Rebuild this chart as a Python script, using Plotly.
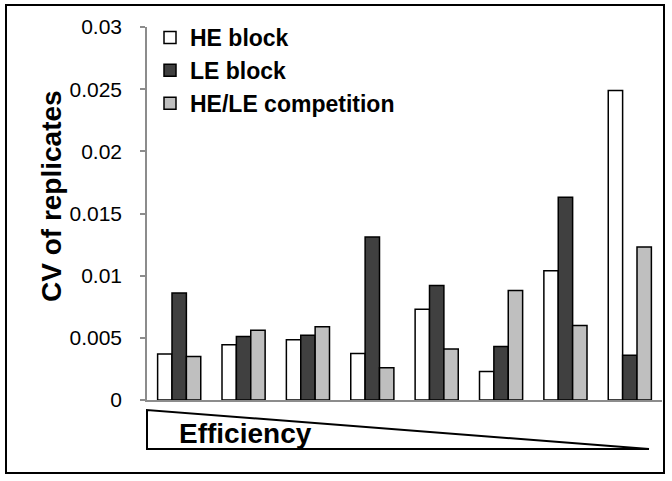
import plotly.graph_objects as go

groups = ["1", "2", "3", "4", "5", "6", "7", "8"]
he_block = [0.0037, 0.00445, 0.00485, 0.00375, 0.0073, 0.0023, 0.0104, 0.0249]
le_block = [0.0086, 0.0051, 0.0052, 0.0131, 0.0092, 0.0043, 0.0163, 0.0036]
competition = [0.0035, 0.0056, 0.0059, 0.0026, 0.0041, 0.0088, 0.006, 0.0123]
series_names = ["HE block", "LE block", "HE/LE competition"]
series_colors = ["#ffffff", "#404040", "#bfbfbf"]
y_ticks = [0, 0.005, 0.01, 0.015, 0.02, 0.025, 0.03]
y_tick_labels = ["0", "0.005", "0.01", "0.015", "0.02", "0.025", "0.03"]

FONT = "Liberation Sans, Arial, sans-serif"

fig = go.Figure()
for i, (name, vals, col) in enumerate(zip(series_names, [he_block, le_block, competition], series_colors)):
    fig.add_trace(go.Bar(
        x=groups, y=vals, name=name, legendgroup=name,
        marker=dict(color=col, line=dict(color="#000000", width=1.5)),
    ))

W, H = 672, 481
L, R, T, B = 147, 10, 27, 81
pw = W - L - R
ph = H - T - B

def px_x(x):
    return (x - L) / pw

def px_y(y):
    return (H - B - y) / ph

fig.update_layout(
    width=W, height=H,
    margin=dict(l=L, r=R, t=T, b=B),
    paper_bgcolor="white", plot_bgcolor="white",
    barmode="group", bargap=0.33, bargroupgap=0,
    font=dict(family=FONT, color="#000000"),
    showlegend=True,
    legend=dict(
        x=px_x(150), y=px_y(16), xanchor="left", yanchor="top",
        font=dict(size=23, family=FONT, color="#000000", weight="bold"),
        bgcolor="rgba(0,0,0,0)", tracegroupgap=4, traceorder="normal",
    ),
    xaxis=dict(
        showticklabels=False, ticks="", showgrid=False, zeroline=False,
        showline=True, linecolor="#8c8c8c", linewidth=1.5,
    ),
    yaxis=dict(
        range=[0, 0.03], tickvals=y_ticks, ticktext=y_tick_labels,
        tickfont=dict(size=21, family=FONT, color="#000000"),
        ticks="outside", ticklen=5, tickcolor="#8c8c8c", tickwidth=1.5,
        showgrid=False, zeroline=False, showline=True,
        linecolor="#8c8c8c", linewidth=1.5, ticklabelstandoff=14,
    ),
    shapes=[
        dict(type="rect", xref="paper", yref="paper",
             x0=px_x(6), x1=px_x(664), y0=px_y(473), y1=px_y(5),
             line=dict(color="#000000", width=2), fillcolor="rgba(0,0,0,0)"),
        dict(type="path", xref="paper", yref="paper",
             path=f"M {px_x(147)} {px_y(410)} L {px_x(147)} {px_y(449)} L {px_x(649)} {px_y(449)} Z",
             line=dict(color="#000000", width=2), fillcolor="rgba(0,0,0,0)"),
    ],
    annotations=[
        dict(text="<b>CV of replicates</b>", xref="paper", yref="paper",
             x=px_x(51), y=px_y(196), textangle=-90, showarrow=False,
             xanchor="center", yanchor="middle",
             font=dict(size=28, family=FONT, color="#000000")),
        dict(text="<b>Efficiency</b>", xref="paper", yref="paper",
             x=px_x(245), y=px_y(433), showarrow=False,
             xanchor="center", yanchor="middle",
             font=dict(size=28, family=FONT, color="#000000")),
    ],
)

fig.write_html(
    "out.html",
    config={"displayModeBar": False},
    post_script="document.body.style.margin='0';document.body.style.overflow='hidden';",
)
